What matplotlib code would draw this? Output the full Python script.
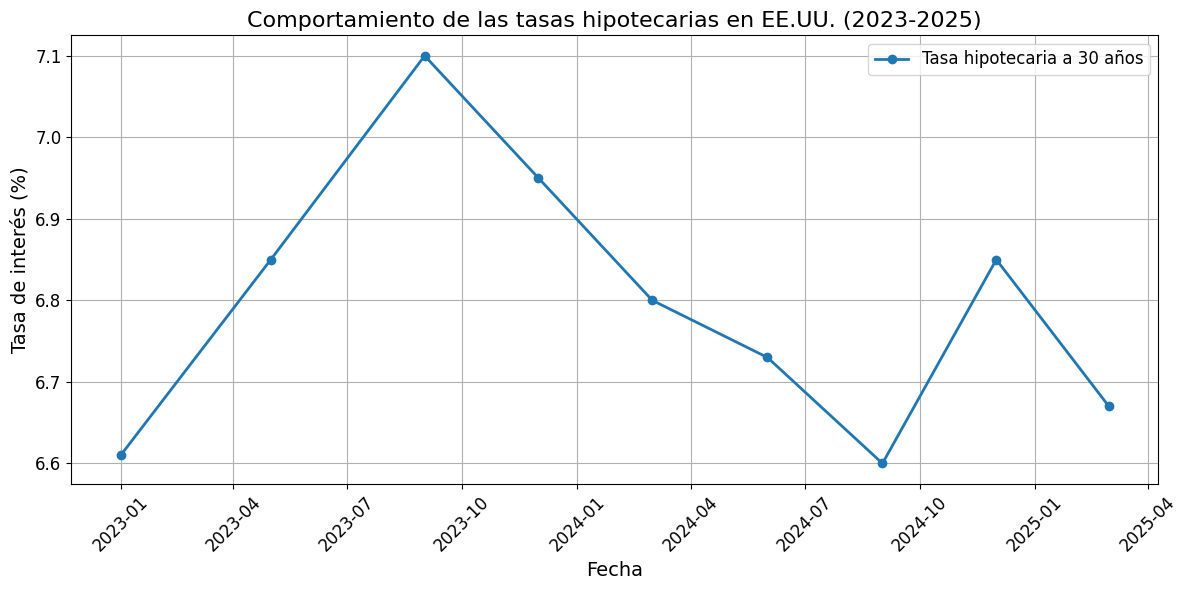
import matplotlib
matplotlib.use('Agg')
import matplotlib.pyplot as plt
import pandas as pd

# datos
fechas = ['2023-01-01', '2023-05-01', '2023-09-01', '2023-12-01', '2024-03-01',
          '2024-06-01', '2024-09-01', '2024-12-01', '2025-03-01']
tasas = [6.61, 6.85, 7.10, 6.95, 6.80, 6.73, 6.60, 6.85, 6.67]

fechas = pd.to_datetime(fechas)

fig, ax = plt.subplots(figsize=(11.88, 5.9), dpi=100)
ax.plot(fechas, tasas, marker='o', linewidth=2, label='Tasa hipotecaria a 30 años')

ax.set_title('Comportamiento de las tasas hipotecarias en EE.UU. (2023-2025)', fontsize=16)
ax.set_xlabel('Fecha', fontsize=14)
ax.set_ylabel('Tasa de interés (%)', fontsize=14)
ax.tick_params(axis='both', labelsize=12)
plt.xticks(rotation=45)
ax.grid(True)
ax.legend(fontsize=12)

fig.subplots_adjust(left=0.06, right=0.975, top=0.94, bottom=0.18)
plt.savefig('out.png')
